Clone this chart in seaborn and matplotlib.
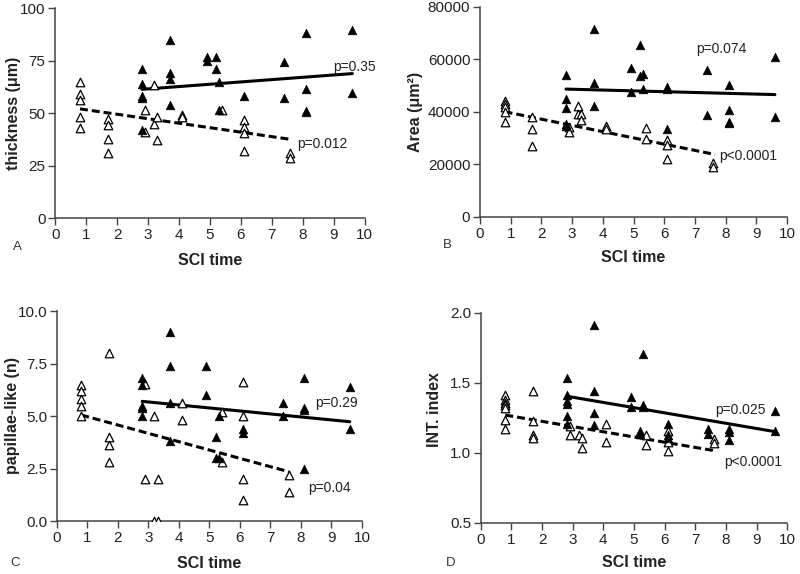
import matplotlib
matplotlib.use("Agg")
import matplotlib.pyplot as plt
import seaborn as sns
import pandas as pd
from matplotlib.ticker import FormatStrFormatter, MultipleLocator

# ---------------- data ----------------
# Panel A: thickness (um)
A_fill_x = [2.8, 2.8, 2.8, 2.8, 2.8, 3.7, 3.7, 3.7, 3.7, 4.9, 4.9, 5.2, 5.2, 5.3, 5.3,
            6.1, 7.4, 7.4, 8.1, 8.1, 8.1, 8.1, 9.6, 9.6]
A_fill_y = [71, 64, 58, 57, 42, 85, 69, 66, 54, 76.5, 75, 76.5, 71, 65, 51.5,
            58, 74.5, 57, 88, 61.5, 51, 50.5, 89.5, 59.5]
A_open_x = [0.8, 0.8, 0.8, 0.8, 0.8, 1.7, 1.7, 1.7, 1.7, 2.9, 2.9, 3.2, 3.2, 3.3, 3.3,
            4.1, 4.1, 5.4, 6.1, 6.1, 6.1, 6.1, 7.6, 7.6]
A_open_y = [65, 59, 56, 48, 43, 47, 44.5, 37.5, 31, 51.5, 41, 63.5, 45, 48, 37,
            49, 48, 51.5, 46.5, 43.5, 40.5, 32, 31, 28.5]
A_fit_solid_x, A_fit_solid_y = [2.8, 9.6], [61.3, 68.8]
A_fit_dash_x, A_fit_dash_y = [0.8, 7.6], [52.0, 37.5]

# Panel B: Area (um^2)
B_fill_x = [2.8, 2.8, 2.8, 2.8, 2.8, 3.7, 3.7, 3.7, 4.9, 4.9, 5.2, 5.2, 5.3, 5.3,
            6.1, 6.1, 6.1, 7.4, 7.4, 8.1, 8.1, 8.1, 8.1, 9.6, 9.6]
B_fill_y = [54000, 45000, 41500, 35500, 34500, 71500, 51000, 42300, 56700, 47400,
            65500, 53500, 54500, 48700, 49400, 48700, 33400, 55800, 38900,
            50300, 40800, 36300, 35700, 60900, 38000]
B_open_x = [0.8, 0.8, 0.8, 0.8, 0.8, 1.7, 1.7, 1.7, 2.9, 2.9, 3.2, 3.2, 3.3, 3.3,
            4.1, 4.1, 5.4, 5.4, 6.1, 6.1, 6.1, 7.6, 7.6]
B_open_y = [44200, 42900, 41800, 40100, 36300, 38000, 33400, 27100, 34400, 32500,
            42300, 39100, 39100, 37000, 34700, 33400, 34000, 29600, 29300, 27400,
            22000, 20500, 19000]
B_fit_solid_x, B_fit_solid_y = [2.8, 9.6], [48700, 46600]
B_fit_dash_x, B_fit_dash_y = [0.8, 7.65], [40100, 23800]

# Panel C: papillae-like (n)
C_fill_x = [2.8, 2.8, 2.8, 2.8, 2.8, 3.7, 3.7, 3.7, 3.7, 4.9, 4.9, 5.2, 5.2, 5.3, 5.3,
            6.1, 6.1, 7.4, 7.4, 8.1, 8.1, 8.1, 8.1, 9.6, 9.6]
C_fill_y = [6.8, 6.5, 5.5, 5.4, 5.0, 9.0, 7.4, 5.6, 3.8, 7.4, 6.0, 4.0, 3.0, 5.0, 3.0,
            4.4, 4.2, 5.6, 5.0, 6.8, 5.4, 5.3, 2.5, 6.4, 4.4]
C_open_x = [0.8, 0.8, 0.8, 0.8, 0.8, 1.7, 1.7, 1.7, 1.7, 2.9, 2.9, 3.2, 3.2, 3.3, 3.3,
            4.1, 4.1, 5.4, 5.4, 6.1, 6.1, 6.1, 6.1, 7.6, 7.6]
C_open_y = [6.5, 6.2, 5.8, 5.5, 5.0, 8.0, 4.0, 3.6, 2.8, 6.55, 2.0, 5.0, 0.0, 2.0, 0.0,
            5.6, 4.8, 5.2, 2.8, 6.6, 5.0, 2.0, 1.0, 2.2, 1.4]
C_fit_solid_x, C_fit_solid_y = [2.8, 9.6], [5.70, 4.73]
C_fit_dash_x, C_fit_dash_y = [0.8, 7.6], [5.05, 2.35]

# Panel D: INT. index
D_fill_x = [2.8, 2.8, 2.8, 2.8, 2.8, 2.8, 3.7, 3.7, 3.7, 3.7, 4.9, 4.9, 5.2, 5.2,
            5.3, 5.3, 5.3, 6.1, 6.1, 6.1, 7.4, 7.4, 8.1, 8.1, 8.1, 9.6, 9.6]
D_fill_y = [1.535, 1.415, 1.37, 1.35, 1.265, 1.205, 1.915, 1.44, 1.285, 1.2, 1.4, 1.33,
            1.16, 1.135, 1.705, 1.34, 1.325, 1.205, 1.125, 1.11, 1.17, 1.135,
            1.17, 1.15, 1.09, 1.3, 1.16]
D_open_x = [0.8, 0.8, 0.8, 0.8, 0.8, 0.8, 0.8, 1.7, 1.7, 1.7, 1.7, 2.9, 2.9, 3.2,
            3.3, 3.3, 4.1, 4.1, 5.4, 5.4, 6.1, 6.1, 6.1, 7.6, 7.6]
D_open_y = [1.415, 1.375, 1.355, 1.34, 1.32, 1.235, 1.17, 1.44, 1.225, 1.125, 1.11,
            1.19, 1.13, 1.125, 1.105, 1.035, 1.205, 1.075, 1.125, 1.055,
            1.155, 1.075, 1.015, 1.1, 1.07]
D_fit_solid_x, D_fit_solid_y = [2.8, 9.6], [1.405, 1.152]
D_fit_dash_x, D_fit_dash_y = [0.8, 7.6], [1.27, 1.017]

x_label = "SCI time"
y_labels = ["thickness (μm)", "Area (μm²)", "papillae-like (n)", "INT. index"]
panel_letters = ["A", "B", "C", "D"]
p_solid = ["p=0.35", "p=0.074", "p=0.29", "p=0.025"]
p_dash = ["p=0.012", "p<0.0001", "p=0.04", "p<0.0001"]

# ---------------- style ----------------
sns.set_style("ticks")
plt.rcParams["font.family"] = ["Liberation Sans", "DejaVu Sans"]
TXT = "#222222"

fig = plt.figure(figsize=(8.0, 5.74), dpi=100)

panels = [
    dict(rect=[0.069, 0.620, 0.387, 0.366], fx=A_fill_x, fy=A_fill_y, ox=A_open_x, oy=A_open_y,
         sx=A_fit_solid_x, sy=A_fit_solid_y, dx=A_fit_dash_x, dy=A_fit_dash_y,
         ylim=(0, 100), ystep=25, fmt="%d",
         ps_pos=(8.97, 72), pd_pos=(7.83, 35.5), ylab_x=-0.135, ylab_y=0.5,
         xlab_y=-0.2, letter=(0.016, 0.570)),
    dict(rect=[0.600, 0.622, 0.384, 0.366], fx=B_fill_x, fy=B_fill_y, ox=B_open_x, oy=B_open_y,
         sx=B_fit_solid_x, sy=B_fit_solid_y, dx=B_fit_dash_x, dy=B_fit_dash_y,
         ylim=(0, 80000), ystep=20000, fmt="%d",
         ps_pos=(7.04, 64000), pd_pos=(7.8, 23200), ylab_x=-0.21, ylab_y=0.5,
         xlab_y=-0.195, letter=(0.554, 0.573)),
    dict(rect=[0.071, 0.0923, 0.3815, 0.3657], fx=C_fill_x, fy=C_fill_y, ox=C_open_x, oy=C_open_y,
         sx=C_fit_solid_x, sy=C_fit_solid_y, dx=C_fit_dash_x, dy=C_fit_dash_y,
         ylim=(0, 10), ystep=2.5, fmt="%.1f",
         ps_pos=(8.47, 5.6), pd_pos=(8.22, 1.55), ylab_x=-0.144, ylab_y=0.505,
         xlab_y=-0.2, letter=(0.0125, 0.019)),
    dict(rect=[0.601, 0.0889, 0.383, 0.3661], fx=D_fill_x, fy=D_fill_y, ox=D_open_x, oy=D_open_y,
         sx=D_fit_solid_x, sy=D_fit_solid_y, dx=D_fit_dash_x, dy=D_fit_dash_y,
         ylim=(0.5, 2.0), ystep=0.5, fmt="%.1f",
         ps_pos=(7.65, 1.307), pd_pos=(7.95, 0.933), ylab_x=-0.15, ylab_y=0.54,
         xlab_y=-0.19, letter=(0.5575, 0.019)),
]

for i, p in enumerate(panels):
    ax = fig.add_axes(p["rect"])
    df_fill = pd.DataFrame({"x": p["fx"], "y": p["fy"]})
    df_open = pd.DataFrame({"x": p["ox"], "y": p["oy"]})
    df_s = pd.DataFrame({"x": p["sx"], "y": p["sy"]})
    df_d = pd.DataFrame({"x": p["dx"], "y": p["dy"]})

    sns.lineplot(data=df_s, x="x", y="y", ax=ax, color="black", lw=2.2, zorder=2)
    sns.lineplot(data=df_d, x="x", y="y", ax=ax, color="black", lw=2.2,
                 linestyle=(0, (2.6, 1.3)), zorder=2)
    sns.scatterplot(data=df_open, x="x", y="y", ax=ax, marker="^", s=38,
                    facecolor="white", edgecolor="black", linewidth=0.9, zorder=3)
    sns.scatterplot(data=df_fill, x="x", y="y", ax=ax, marker="^", s=38,
                    color="black", edgecolor="black", linewidth=0.5, zorder=4)

    ax.set_xlim(0, 10)
    ax.set_ylim(*p["ylim"])
    ax.xaxis.set_major_locator(MultipleLocator(1))
    ax.yaxis.set_major_locator(MultipleLocator(p["ystep"]))
    ax.yaxis.set_major_formatter(FormatStrFormatter(p["fmt"]))
    sns.despine(ax=ax)
    for sp in ("left", "bottom"):
        ax.spines[sp].set_color("#444444")
        ax.spines[sp].set_linewidth(1.1)
    ax.tick_params(axis="both", direction="out", length=5, width=1.0,
                   color="#444444", labelcolor=TXT, labelsize=11, pad=2)

    ax.set_xlabel(x_label, fontsize=11.5, fontweight="bold", color=TXT)
    ax.set_ylabel(y_labels[i], fontsize=11.5, fontweight="bold", color=TXT)
    ax.xaxis.set_label_coords(0.5, p["xlab_y"])
    ax.xaxis.label.set_verticalalignment("center")
    ax.yaxis.set_label_coords(p["ylab_x"], p["ylab_y"])
    ax.yaxis.label.set_verticalalignment("center")

    ax.text(p["ps_pos"][0], p["ps_pos"][1], p_solid[i], fontsize=10, color=TXT,
            ha="left", va="center", clip_on=False)
    ax.text(p["pd_pos"][0], p["pd_pos"][1], p_dash[i], fontsize=10, color=TXT,
            ha="left", va="center", clip_on=False)
    fig.text(p["letter"][0], p["letter"][1], panel_letters[i], fontsize=9.5,
             color="#333333", ha="left", va="center")

fig.savefig("out.png", dpi=100, facecolor="white")
